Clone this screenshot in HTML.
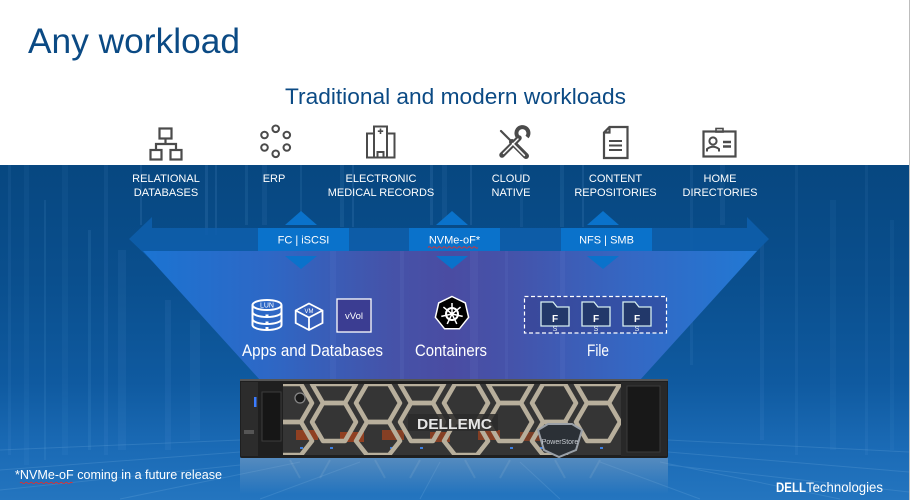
<!DOCTYPE html>
<html><head><meta charset="utf-8"><style>
html,body{margin:0;padding:0;background:#fff;width:911px;height:500px;overflow:hidden;}
svg{display:block;position:absolute;left:0;top:0;}
text{font-family:"Liberation Sans",Arial,sans-serif;}
</style></head><body>
<svg width="911" height="500" viewBox="0 0 911 500" xmlns="http://www.w3.org/2000/svg" overflow="hidden">
<defs>
<linearGradient id="bg" x1="0" y1="0" x2="0" y2="1">
<stop offset="0" stop-color="#074780"/>
<stop offset="0.35" stop-color="#0a4f8e"/>
<stop offset="0.65" stop-color="#0f5aa0"/>
<stop offset="0.85" stop-color="#1b6bb6"/>
<stop offset="1" stop-color="#2475bf"/>
</linearGradient>
<linearGradient id="fun" x1="143" y1="0" x2="757" y2="0" gradientUnits="userSpaceOnUse">
<stop offset="0" stop-color="#1b74d2"/>
<stop offset="0.2" stop-color="#2d68c6"/>
<stop offset="0.4" stop-color="#4553a9"/>
<stop offset="0.5" stop-color="#4a4ca2"/>
<stop offset="0.6" stop-color="#4553aa"/>
<stop offset="0.8" stop-color="#3468c4"/>
<stop offset="1" stop-color="#2179d4"/>
</linearGradient>
<linearGradient id="rf" x1="0" y1="458" x2="0" y2="494" gradientUnits="userSpaceOnUse">
<stop offset="0" stop-color="#9ab0c8" stop-opacity="0.45"/>
<stop offset="1" stop-color="#9ab0c8" stop-opacity="0"/>
</linearGradient>
<clipPath id="bez"><rect x="283" y="384" width="338" height="71"/></clipPath>
</defs>

<rect x="0" y="0" width="911" height="500" fill="#fff"/>
<text x="28" y="53" font-size="35" fill="#0b4a84" textLength="212" lengthAdjust="spacingAndGlyphs">Any workload</text>
<text x="285" y="104" font-size="22.5" fill="#0b4a84" textLength="341" lengthAdjust="spacingAndGlyphs">Traditional and modern workloads</text>

<g fill="none" stroke="#4b4b4b" stroke-width="2.2">
<rect x="159.5" y="128.5" width="12" height="10"/>
<path d="M165.5,138.5 V144 M156,150 V144 H176 V150"/>
<rect x="150.5" y="150" width="11" height="9.5"/>
<rect x="170.5" y="150" width="11" height="9.5"/>
<g stroke-width="2">
<circle cx="275.7" cy="128.8" r="3.3"/><circle cx="264.5" cy="135" r="3.3"/><circle cx="286.8" cy="135" r="3.3"/>
<circle cx="264.5" cy="147.5" r="3.3"/><circle cx="286.8" cy="147.5" r="3.3"/><circle cx="275.7" cy="153.8" r="3.3"/>
</g>
<g stroke-width="2">
<rect x="374" y="126.5" width="13" height="31"/>
<rect x="367" y="133.5" width="7" height="24"/>
<rect x="387" y="133.5" width="7.5" height="24"/>
<rect x="377.5" y="152" width="6" height="5.5"/>
</g>
<path d="M380.5,128.5 V134 M377.8,131.2 H383.2" stroke-width="1.6"/>
<path d="M604,132.5 L609.5,127 L627.5,127 L627.5,158 L604,158 Z M604,132.5 H609.5 V127"/>
<path d="M609,141 H622 M609,145.5 H622 M609,150 H622" stroke-width="2"/>
<rect x="703.5" y="131.5" width="32" height="25"/>
<rect x="716" y="128.5" width="7" height="3.5" stroke-width="1.6"/>
<circle cx="713" cy="141" r="3.6" stroke-width="2"/>
<path d="M707,151.5 V149 Q713,144.5 719,149 V151.5" stroke-width="2"/>
<path d="M723,142 H731 M723,146.5 H731" stroke-width="2.4"/>
<path d="M501,131 L511,141" stroke-width="2.2" stroke-linecap="round"/>
<path d="M512,142 L526,156" stroke-width="6" stroke-linecap="round"/>
<path d="M502,155 L519,138" stroke-width="5.5" stroke-linecap="round"/>
<path d="M519,138 A6,6 0 1 1 527,137" stroke-width="4"/>
</g>
<path d="M512.6,143.6 L524.4,155.4" stroke="#fff" stroke-width="1.6" stroke-linecap="round"/>
<path d="M503.5,153.5 L518,139" stroke="#fff" stroke-width="1.4" stroke-linecap="round"/>

<rect x="0" y="165" width="909" height="335" fill="url(#bg)"/>
<g fill="#7ab8f0">
<rect x="8" y="165" width="3" height="290" opacity="0.07"/>
<rect x="24" y="165" width="5" height="300" opacity="0.06"/>
<rect x="44" y="200" width="2" height="260" opacity="0.1"/>
<rect x="62" y="165" width="6" height="290" opacity="0.06"/>
<rect x="88" y="230" width="3" height="220" opacity="0.1"/>
<rect x="104" y="165" width="4" height="290" opacity="0.08"/>
<rect x="118" y="250" width="8" height="200" opacity="0.07"/>
<rect x="140" y="165" width="2" height="60" opacity="0.12"/>
<rect x="165" y="300" width="6" height="150" opacity="0.08"/>
<rect x="190" y="320" width="10" height="120" opacity="0.07"/>
<rect x="205" y="165" width="3" height="70" opacity="0.12"/>
<rect x="215" y="165" width="2" height="70" opacity="0.12"/>
<rect x="245" y="165" width="3" height="60" opacity="0.1"/>
<rect x="262" y="165" width="5" height="60" opacity="0.08"/>
<rect x="300" y="165" width="2" height="60" opacity="0.1"/>
<rect x="340" y="165" width="4" height="62" opacity="0.1"/>
<rect x="352" y="165" width="2" height="62" opacity="0.12"/>
<rect x="430" y="165" width="3" height="60" opacity="0.12"/>
<rect x="442" y="165" width="5" height="60" opacity="0.08"/>
<rect x="470" y="165" width="2" height="60" opacity="0.12"/>
<rect x="520" y="165" width="3" height="62" opacity="0.08"/>
<rect x="560" y="165" width="4" height="62" opacity="0.1"/>
<rect x="582" y="165" width="2" height="62" opacity="0.12"/>
<rect x="690" y="165" width="3" height="200" opacity="0.08"/>
<rect x="720" y="165" width="5" height="60" opacity="0.08"/>
<rect x="760" y="240" width="4" height="200" opacity="0.08"/>
<rect x="795" y="165" width="3" height="290" opacity="0.07"/>
<rect x="830" y="200" width="6" height="250" opacity="0.06"/>
<rect x="865" y="165" width="3" height="290" opacity="0.07"/>
<rect x="890" y="220" width="4" height="230" opacity="0.06"/>
</g>
<g stroke="#9ccbf2" stroke-width="1" opacity="0.16" fill="none">
<path d="M0,450 L240,440 M0,470 L240,452 M0,490 L240,465 M668,440 L909,452 M668,452 L909,472 M668,465 L909,492 M120,499 L300,462 M260,499 L360,462 M420,499 L440,462 M560,499 L520,462 M700,499 L600,462 M840,499 L660,462"/>
</g>

<g fill="#fff" font-size="11" text-anchor="middle">
<text x="166" y="182">RELATIONAL</text><text x="166" y="196">DATABASES</text>
<text x="274" y="182">ERP</text>
<text x="381" y="182">ELECTRONIC</text><text x="381" y="196">MEDICAL RECORDS</text>
<text x="511" y="182">CLOUD</text><text x="511" y="196">NATIVE</text>
<text x="615.5" y="182">CONTENT</text><text x="615.5" y="196">REPOSITORIES</text>
<text x="720" y="182">HOME</text><text x="720" y="196">DIRECTORIES</text>
</g>

<path d="M129,239 L152,217 L152,228 L747,228 L747,217 L769,239 L747,261 L747,251 L152,251 L152,261 Z" fill="#0e5eab" opacity="0.9"/>
<path d="M143,251 L757,251 L640,380 L260,380 Z" fill="url(#fun)"/>
<g fill="#9fb6ff" opacity="0.06">
<rect x="330" y="251" width="6" height="129"/><rect x="400" y="251" width="4" height="129"/><rect x="470" y="251" width="8" height="129"/><rect x="505" y="251" width="3" height="129"/><rect x="560" y="251" width="5" height="129"/>
</g>

<g fill="#0a72cb">
<rect x="258" y="228" width="91" height="23"/>
<rect x="409" y="228" width="91" height="23"/>
<rect x="561" y="228" width="91" height="23"/>
<path d="M285,225 L317,225 L301,211 Z M285,256 L317,256 L301,269 Z"/>
<path d="M436,225 L468,225 L452,211 Z M436,256 L468,256 L452,269 Z"/>
<path d="M587,225 L619,225 L603,211 Z M587,256 L619,256 L603,269 Z"/>
</g>
<g fill="#fff" font-size="11" text-anchor="middle">
<text x="303.5" y="243.5">FC | iSCSI</text>
<text x="454.5" y="243.5">NVMe-oF*</text>
<text x="606.5" y="243.5">NFS | SMB</text>
</g>
<path d="M428,247.5 q1.25,-1.5 2.5,0 t2.5,0 t2.5,0 t2.5,0 t2.5,0 t2.5,0 t2.5,0 t2.5,0 t2.5,0 t2.5,0 t2.5,0 t2.5,0 t2.5,0 t2.5,0 t2.5,0 t2.5,0 t2.5,0 t2.5,0 t2.5,0 t2.5,0" fill="none" stroke="#e03030" stroke-width="0.9"/>

<g fill="none" stroke="#fff" stroke-width="2">
<ellipse cx="267" cy="305" rx="14.5" ry="5"/>
<path d="M252.5,305 V325 A14.5,5 0 0 0 281.5,325 V305"/>
<path d="M252.5,312 A14.5,5 0 0 0 281.5,312 M252.5,319 A14.5,5 0 0 0 281.5,319"/>
<path d="M309,303.5 L322.5,310.5 L322.5,323 L309,330 L295.7,323 L295.7,310.5 Z M295.7,310.5 L309,317.5 L322.5,310.5 M309,317.5 V330" stroke-width="1.8"/>
</g>
<g fill="#fff">
<rect x="265.5" y="314.5" width="3" height="2.5"/><rect x="265.5" y="321.5" width="3" height="2.5"/><rect x="265.5" y="327" width="3" height="2"/>
</g>
<text x="267" y="307.5" font-size="7" fill="#fff" text-anchor="middle">LUN</text>
<text x="309" y="313" font-size="6" fill="#fff" text-anchor="middle">VM</text>
<rect x="337" y="299" width="34" height="33" fill="#3b3d92" stroke="#fff" stroke-width="1.3"/>
<text x="354" y="319" font-size="9.5" fill="#fff" text-anchor="middle">vVol</text>
<path d="M452,296.5 L465.3,302.9 L468.6,317.3 L459.4,328.8 L444.6,328.8 L435.4,317.3 L438.7,302.9 Z" fill="#000" stroke="#fff" stroke-width="1.5"/>
<g stroke="#fff" fill="none">
<circle cx="452" cy="314" r="6" stroke-width="2"/>
<path d="M452,314 L452,303 M452,314 L460.6,307.1 M452,314 L462.7,316.4 M452,314 L456.8,323.9 M452,314 L447.2,323.9 M452,314 L441.3,316.4 M452,314 L443.4,307.1" stroke-width="1.5"/>
</g>
<circle cx="452" cy="314" r="1.8" fill="#fff"/>
<rect x="524.5" y="296.5" width="142" height="36.5" fill="#323c8a" fill-opacity="0.5" stroke="#fff" stroke-width="1.2" stroke-dasharray="4,2.5"/>
<g stroke="#d6eef0" stroke-width="1.3" fill="#22386a">
<path d="M541,302 L553,302 L557,307 L569,307 L569,326 L541,326 Z"/>
<path d="M582,302 L594,302 L598,307 L610,307 L610,326 L582,326 Z"/>
<path d="M623,302 L635,302 L639,307 L651,307 L651,326 L623,326 Z"/>
</g>
<g fill="#fff" font-size="10" font-weight="bold" text-anchor="middle">
<text x="555" y="322">F</text><text x="596" y="322">F</text><text x="637" y="322">F</text>
</g>
<g fill="#e8f4f4" font-size="7" text-anchor="middle">
<text x="555" y="331">S</text><text x="596" y="331">S</text><text x="637" y="331">S</text>
</g>
<g fill="#fff" font-size="16.5">
<text x="242" y="356" textLength="141" lengthAdjust="spacingAndGlyphs">Apps and Databases</text>
<text x="415" y="356" textLength="72" lengthAdjust="spacingAndGlyphs">Containers</text>
<text x="587" y="356" textLength="22" lengthAdjust="spacingAndGlyphs">File</text>
</g>

<!-- reflection (simple) -->
<rect x="240" y="458" width="428" height="36" fill="url(#rf)"/>
<g stroke="#c8d4e0" stroke-width="2" fill="none" opacity="0.12">
<path d="M290,460 L300,478 M330,460 L320,478 M375,460 L385,478 M420,460 L410,478 M465,460 L475,478 M510,460 L500,478 M555,460 L565,478 M600,460 L590,478"/>
</g>

<!-- server -->
<g>
<rect x="240" y="379" width="428" height="79" rx="2" fill="#1f1f1f"/>
<rect x="240" y="379" width="428" height="2" fill="#555"/>
<rect x="241" y="382" width="17" height="74" fill="#2c2c2c"/>
<rect x="254" y="397" width="2.5" height="10" fill="#3b7cff"/>
<rect x="244" y="430" width="10" height="4" fill="#555"/>
<rect x="262" y="392" width="19" height="49" fill="#161616" stroke="#3c3c3c" stroke-width="1"/>
<rect x="283" y="384" width="338" height="71" fill="#353535"/>
<g clip-path="url(#bez)">
<g fill="#a8441e">
<rect x="296" y="430" width="22" height="10" opacity="0.8"/>
<rect x="340" y="432" width="24" height="10" opacity="0.8"/>
<rect x="382" y="430" width="22" height="10" opacity="0.7"/>
<rect x="430" y="432" width="20" height="10" opacity="0.7"/>
<rect x="478" y="430" width="22" height="10" opacity="0.7"/>
<rect x="520" y="432" width="22" height="9" opacity="0.6"/>
</g>
<g fill="#3d7ee0">
<rect x="300" y="447" width="3" height="2"/><rect x="330" y="447" width="3" height="2"/><rect x="360" y="447" width="3" height="2"/><rect x="390" y="447" width="3" height="2"/><rect x="420" y="447" width="3" height="2"/><rect x="480" y="447" width="3" height="2"/><rect x="510" y="447" width="3" height="2"/><rect x="540" y="447" width="3" height="2"/><rect x="600" y="447" width="3" height="2"/>
</g>
<g fill="none" stroke="#b8af9c" stroke-width="4.5" stroke-linejoin="round">
<path d="M268,403 L279,384 L301,384 L312,403 L301,422 L279,422 Z"/>
<path d="M268,441 L279,422 L301,422 L312,441 L301,455 L279,455 Z"/>
<path d="M312,422 L323,403 L345,403 L356,422 L345,441 L323,441 Z"/>
<path d="M312,384 L323,384 L345,384 L356,384 L345,403 L323,403 Z"/>
<path d="M356,403 L367,384 L389,384 L400,403 L389,422 L367,422 Z"/>
<path d="M356,441 L367,422 L389,422 L400,441 L389,455 L367,455 Z"/>
<path d="M400,422 L411,403 L433,403 L444,422 L433,441 L411,441 Z"/>
<path d="M400,384 L411,384 L433,384 L444,384 L433,403 L411,403 Z"/>
<path d="M444,403 L455,384 L477,384 L488,403 L477,422 L455,422 Z"/>
<path d="M444,441 L455,422 L477,422 L488,441 L477,455 L455,455 Z"/>
<path d="M488,422 L499,403 L521,403 L532,422 L521,441 L499,441 Z"/>
<path d="M488,384 L499,384 L521,384 L532,384 L521,403 L499,403 Z"/>
<path d="M532,403 L543,384 L565,384 L576,403 L565,422 L543,422 Z"/>
<path d="M532,441 L543,422 L565,422 L576,441 L565,455 L543,455 Z"/>
<path d="M576,422 L587,403 L609,403 L620,422 L609,441 L587,441 Z"/>
<path d="M576,384 L587,384 L609,384 L620,384 L609,403 L587,403 Z"/>
</g>
</g>
<rect x="621" y="382" width="46" height="74" fill="#282828"/>
<rect x="627" y="386" width="33" height="66" fill="#181818" stroke="#3a3a3a"/>
<circle cx="300" cy="398" r="5" fill="#1a1a1a" stroke="#888" stroke-width="1.2"/>
<rect x="408" y="414" width="90" height="17" fill="#2a2a2a" opacity="0.85"/>
<path d="M538,430 L548,424 L572,424 L582,430 L576,450 L559,457 L544,450 Z" fill="#2b3036" stroke="#9aa0a8" stroke-width="2"/>
</g>
<text x="417" y="429" font-size="15" font-weight="bold" fill="#e6e6e6" textLength="75" lengthAdjust="spacingAndGlyphs">DELLEMC</text>
<text x="560" y="444" font-size="7" fill="#c8ccd2" text-anchor="middle">PowerStore</text>

<text x="15" y="479" font-size="12.5" fill="#fff" textLength="207" lengthAdjust="spacingAndGlyphs">*NVMe-oF coming in a future release</text>
<path d="M20,483 q1.25,-1.5 2.5,0 t2.5,0 t2.5,0 t2.5,0 t2.5,0 t2.5,0 t2.5,0 t2.5,0 t2.5,0 t2.5,0 t2.5,0 t2.5,0 t2.5,0 t2.5,0 t2.5,0 t2.5,0 t2.5,0 t2.5,0 t2.5,0 t2.5,0 t2.5,0" fill="none" stroke="#e03030" stroke-width="0.9"/>
<text x="776" y="492" font-size="14" font-weight="bold" fill="#fff" textLength="30" lengthAdjust="spacingAndGlyphs">DELL</text>
<text x="806" y="492" font-size="14" fill="#fff" textLength="77" lengthAdjust="spacingAndGlyphs">Technologies</text>

<rect x="909" y="0" width="1" height="500" fill="#bdbdbd"/>
<rect x="910" y="0" width="1" height="500" fill="#fff"/>
</svg>
</body></html>
